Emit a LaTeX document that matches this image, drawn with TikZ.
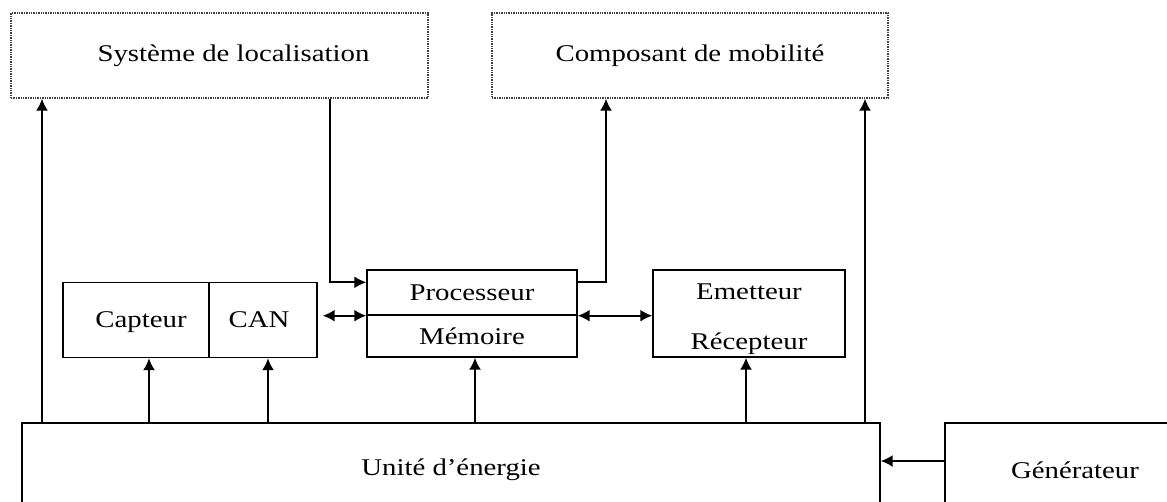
\documentclass[tikz,border=0pt]{standalone}
\usepackage{fontspec}
\setmainfont{Liberation Serif}[FakeStretch=1.2]
\usetikzlibrary{arrows.meta}

\tikzset{
  bloc/.style={draw, line width=1.4pt, inner sep=0pt, minimum width=#1},
  pointille/.style={draw=black!75, densely dotted, line width=1.4pt, inner sep=0pt,
    minimum height=85, minimum width=#1},
  fleche/.style={line width=1.8pt, -{Latex[length=12pt,width=12pt]}},
  dfleche/.style={line width=1.8pt, {Latex[length=12pt,width=12pt]}-{Latex[length=12pt,width=12pt]}}
}

\begin{document}
\begin{tikzpicture}[x=1pt, y=-1pt, font=\fontsize{24}{28}\selectfont]
  \useasboundingbox (0,0) rectangle (1167,501);

  % blocs du haut
  \node[pointille=417] (loc) at (219.5,55.5) {\hspace*{28pt}Système de localisation};
  \node[pointille=396] (mob) at (690,55.5) {Composant de mobilité};

  % noeud capteur
  \node[bloc=146, minimum height=75, text depth=0pt] (capt) at (136,320) {\hspace*{10pt}Capteur};
  \node[bloc=108, minimum height=75, text depth=0pt] (can) at (263,320) {CAN\hspace*{8pt}};
  \node[bloc=210, minimum height=45] (proc) at (472,292.5) {Processeur};
  \node[bloc=210, minimum height=42] (mem) at (472,336) {Mémoire};
  \node[bloc=192, minimum height=87] (emet) at (749,313.5) {};
  \node[align=center, font=\fontsize{24}{50}\selectfont] (emetxt)
    at ([yshift=-6pt]emet.center) {Emetteur\\Récepteur};

  % energie
  \node[bloc=858, minimum height=94] (energie) at (451,470) {Unité d'énergie};
  \node[bloc=260, minimum height=94] (gen) at (1075,470) {Générateur};

  % liaisons
  \draw[fleche] (energie.north -| 42,0) -- (loc.south -| 42,0);
  \draw[fleche] (loc.south -| 330,0) |- ([yshift=-13pt]proc.north west);
  \draw[fleche] ([yshift=-13pt]proc.north east) -| (mob.south -| 606,0);
  \draw[fleche] (energie.north -| 865,0) -- (mob.south -| 865,0);
  \draw[dfleche, shorten <=5pt] (can.east |- proc.south west) -- (proc.south west);
  \draw[dfleche] (proc.south east) -- (emet.west |- proc.south east);
  \draw[fleche] (energie.north -| 149,0) -- (capt.south -| 149,0);
  \draw[fleche] (energie.north -| 268,0) -- (can.south -| 268,0);
  \draw[fleche] (energie.north -| 475,0) -- (mem.south -| 475,0);
  \draw[fleche] (energie.north -| 746,0) -- (emet.south -| 746,0);
  \draw[fleche] (gen.west |- 0,461) -- (energie.east |- 0,461);
\end{tikzpicture}
\end{document}
